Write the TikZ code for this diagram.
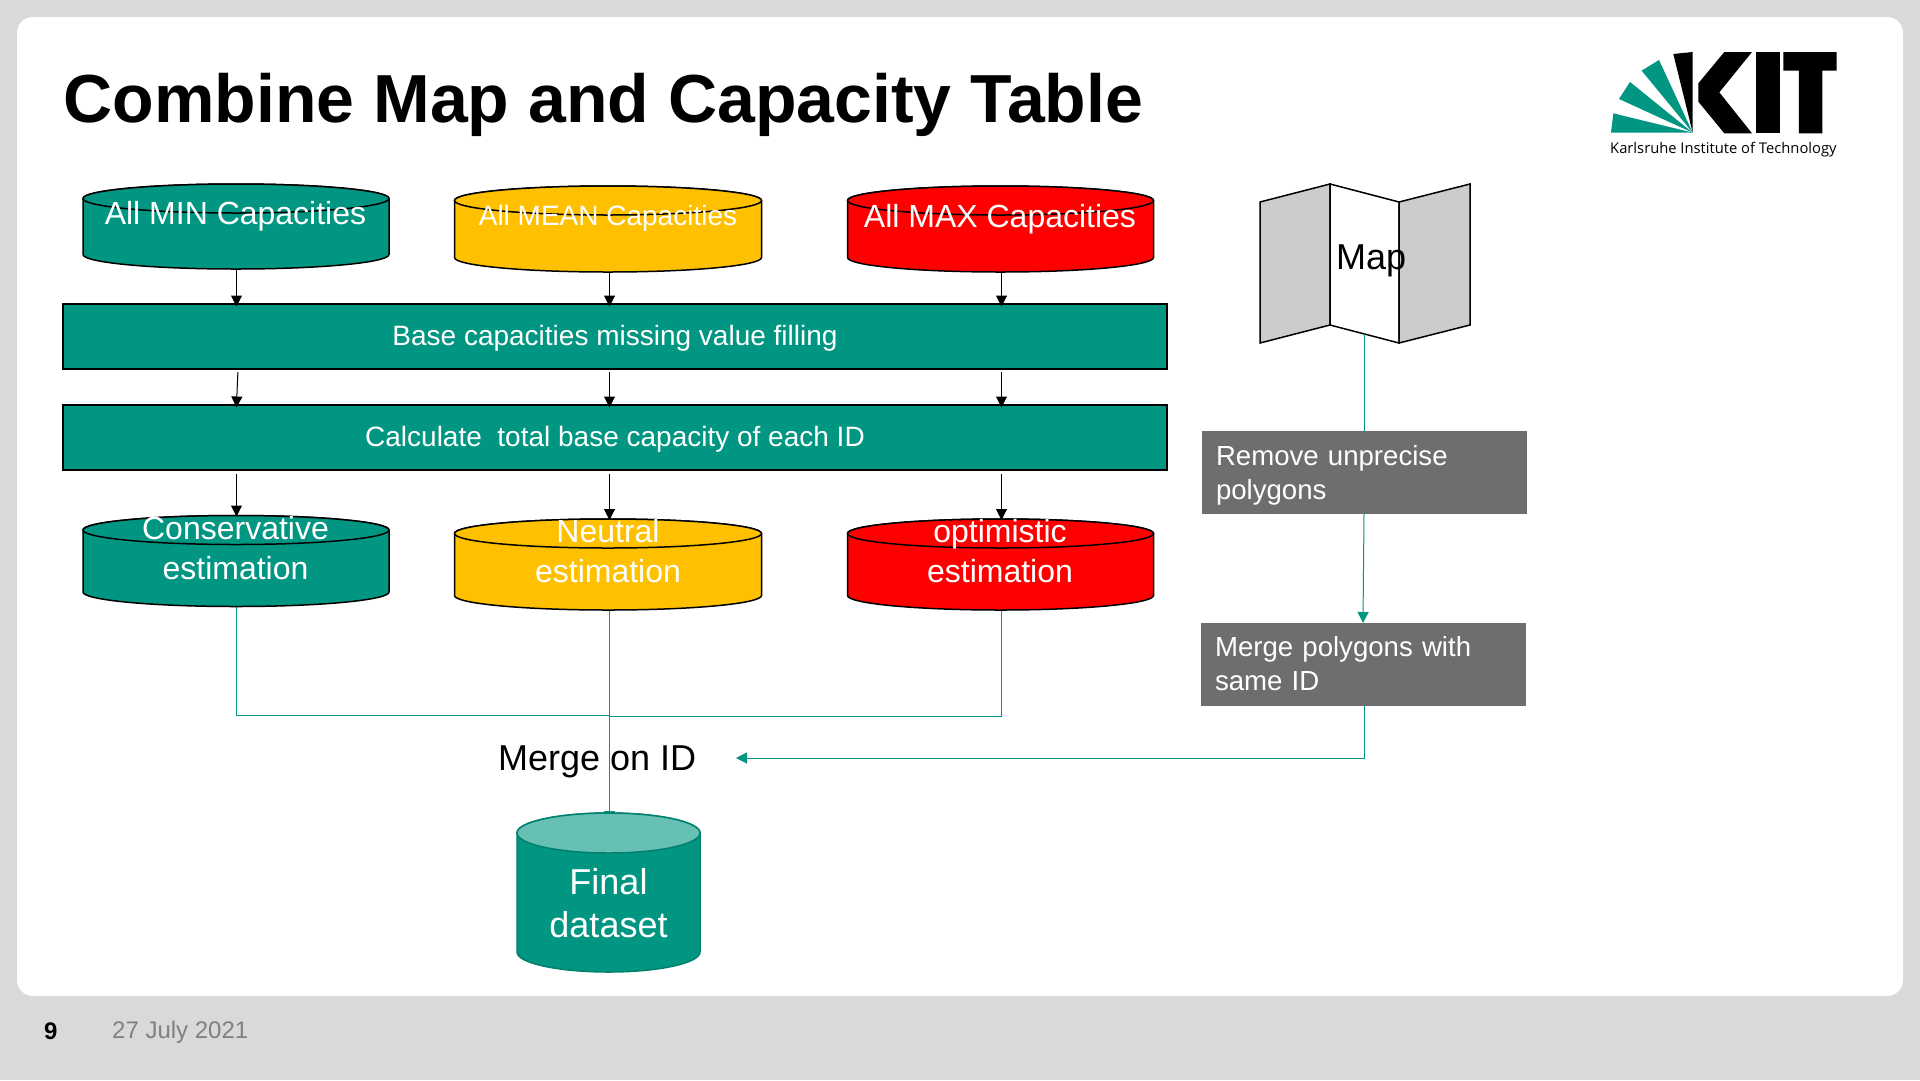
\documentclass[tikz,border=0pt]{standalone}
\usepackage{fontspec}
\setmainfont{Liberation Sans}
\newfontfamily\logofont{Open Sans}
\usetikzlibrary{arrows.meta}
\definecolor{kitteal}{HTML}{009682}
\definecolor{kitgold}{HTML}{FFC000}
\definecolor{kitred}{HTML}{FF0000}
\definecolor{kitframe}{HTML}{D9D9D9}
\definecolor{kitgray}{HTML}{6E6E6E}
\definecolor{mapgray}{HTML}{CCCCCC}
\definecolor{finaltop}{HTML}{66C0B4}
\definecolor{finaledge}{HTML}{00806E}
\definecolor{datecol}{HTML}{808080}
\newcommand\fs[1]{\fontsize{#1}{#1}\selectfont}
\newcommand\drawtank[8]{%
  \pgfmathsetmacro\tkA{#3+#5}\pgfmathsetmacro\tkB{#4-#5}%
  \pgfmathsetmacro\tkL{#1-#2}\pgfmathsetmacro\tkR{#1+#2}%
  \path[draw=#8,fill=#6,line width=1.5pt] (\tkL,\tkA) -- (\tkL,\tkB)
    arc[start angle=180,end angle=360,x radius=#2pt,y radius=#5pt]
    -- (\tkR,\tkA)
    arc[start angle=0,end angle=180,x radius=#2pt,y radius=#5pt] -- cycle;
  \path[draw=#8,fill=#7,line width=1.5pt] (#1,\tkA) ellipse [x radius=#2pt,y radius=#5pt];
}
\tikzset{
  tankbox/.style={inner sep=0pt,outer sep=0pt,minimum width=306pt},
  barbox/.style={draw=black,line width=2pt,fill=kitteal,text=white,inner sep=0pt,outer sep=0pt,
    minimum width=1104pt,minimum height=65pt,text height=21pt,text depth=3pt,font=\fs{28}},
  tanktext/.style={text=white,inner sep=0pt,font=\fs{32}},
  tanktwo/.style={text=white,inner sep=0pt,align=center,font=\fontsize{32}{40}\selectfont},
  graybox/.style={fill=kitgray,text=white,inner sep=0pt,outer sep=0pt,minimum width=325pt,minimum height=83pt,
    text width=297pt,align=left,font=\fontsize{27.6}{34}\selectfont},
  blackarrow/.style={draw=black,line width=1pt,-{Triangle[length=11pt,width=11pt]}},
  tealline/.style={draw=kitteal,line width=1pt},
  tealarrow/.style={draw=kitteal,line width=1pt,-{Triangle[length=11pt,width=11pt]}},
  mappanel/.style={draw=black,line width=1.5pt,line join=miter},
}
\begin{document}
\begin{tikzpicture}[x=1pt,y=-1pt]
\useasboundingbox (0,0) rectangle (1920,1080);
\fill[kitframe] (0,0) rectangle (1920,1080);
\fill[white,rounded corners=16pt] (17,17) rectangle (1903,996);
\node[anchor=base west,inner sep=0pt,font=\bfseries\fs{68}] (title) at (63.5,122) {Combine Map and Capacity Table};
% logo
\begin{scope}[shift={(1580,30)},x=0.3333pt,y=-0.3333pt]
\fill[kitteal] (93,308) -- (100,250) -- (338,308) -- cycle;
\fill[kitteal] (117,207) -- (150,156) -- (338,308) -- cycle;
\fill[kitteal] (185,122) -- (237,90) -- (338,308) -- cycle;
\fill[black] (280,72) -- (338,66) -- (338,308) -- cycle;
\fill[black] (355,160) -- (433,66) -- (516,66) -- (418,187) -- (516,310) -- (433,310) -- (355,215) -- cycle;
\fill[black] (527,66) rectangle (600,310);
\fill[black] (610,66) -- (770,66) -- (770,122) -- (727,122) -- (727,310) -- (657,310) -- (657,122) -- (610,122) -- cycle;
\end{scope}
\node[anchor=base west,inner sep=0pt,font=\logofont\fs{14.75}] (logotext) at (1610,153) {Karlsruhe Institute of Technology};
% nodes
\node[tankbox,minimum height=85pt] (t1) at (236.5,226.5) {};
\node[tankbox,minimum height=86pt] (t2) at (609.5,229) {};
\node[tankbox,minimum height=86pt] (t3) at (1001.5,229) {};
\node[barbox] (rA) at (615,336.5) {Base capacities missing value filling};
\node[barbox] (rB) at (615,437.5) {Calculate\ \ total base capacity of each ID};
\node[tankbox,minimum height=91pt] (t4) at (236.5,561) {};
\node[tankbox,minimum height=91pt] (t5) at (609.5,564.5) {};
\node[tankbox,minimum height=91pt] (t6) at (1001.5,564.5) {};
\node[inner sep=0pt,outer sep=0pt,minimum width=183pt,minimum height=159pt] (t7) at (609.5,892.5) {};
% map
\path[mappanel,fill=mapgray] (1260,202) -- (1330,184) -- (1330,325) -- (1260,343) -- cycle;
\path[mappanel,fill=white] (1330,184) -- (1399,202) -- (1399,343) -- (1330,325) -- cycle;
\path[mappanel,fill=mapgray] (1399,202) -- (1470,184) -- (1470,325) -- (1399,343) -- cycle;
\coordinate (mapfoot) at (1364.5,334);
\node[anchor=base west,inner sep=0pt,font=\fs{36}] (maptext) at (1336,269.5) {Map};
% gray boxes
\node[graybox] (g1) at (1364.5,472.5) {\rule{0pt}{25pt}Remove unprecise\\polygons};
\node[graybox] (g2) at (1363.5,664) {Merge polygons with\\same ID};
\coordinate (mergetip) at (736,758);
% teal connectors
\draw[tealline] (t4.south) |- (t5.south |- 0,715);
\draw[tealline] (t6.south) |- (t5.south |- 0,716.5);
\draw[tealarrow,shorten >=-9pt] (t5.south) -- (t7.north);
\draw[tealline] (mapfoot) -- (mapfoot |- g1.north);
\draw[tealarrow] (1364,514) -- (1363,623);
\draw[tealarrow] (g2.south -| mapfoot) |- (mergetip);
% tanks
\drawtank{236}{153}{184}{269}{14.5}{kitteal}{kitteal}{black}
\drawtank{608}{153.5}{186}{272}{14.5}{kitgold}{kitgold}{black}
\drawtank{1000.5}{153}{186}{272}{14.5}{kitred}{kitred}{black}
\drawtank{236}{153}{515.5}{606.5}{14.5}{kitteal}{kitteal}{black}
\drawtank{608}{153.5}{519}{610}{14.5}{kitgold}{kitgold}{black}
\drawtank{1000.5}{153}{519}{610}{14.5}{kitred}{kitred}{black}
\drawtank{608.5}{91.5}{813}{972}{20}{kitteal}{finaltop}{finaledge}
% black connectors
\draw[blackarrow,shorten >=-2.5pt] (t1.south) -- (t1.south |- rA.north);
\draw[blackarrow,shorten >=-2.5pt] (t2.south) -- (t2.south |- rA.north);
\draw[blackarrow,shorten >=-2.5pt] (t3.south) -- (t3.south |- rA.north);
\draw[blackarrow,shorten <=3pt,shorten >=-2.5pt] ([xshift=1.5pt]t1.south |- rA.south) -- (t1.south |- rB.north);
\draw[blackarrow,shorten <=3pt,shorten >=-2.5pt] (t2.south |- rA.south) -- (t2.south |- rB.north);
\draw[blackarrow,shorten <=3pt,shorten >=-2.5pt] (t3.south |- rA.south) -- (t3.south |- rB.north);
\draw[blackarrow,shorten <=4pt,shorten >=-1pt] (t4.north |- rB.south) -- (t4.north);
\draw[blackarrow,shorten <=4pt,shorten >=-1pt] (t5.north |- rB.south) -- (t5.north);
\draw[blackarrow,shorten <=4pt,shorten >=-1pt] (t6.north |- rB.south) -- (t6.north);
% tank texts
\node[tanktext,anchor=base] (l1) at (235.5,224) {All MIN Capacities};
\node[tanktext,anchor=base,font=\fs{28}] (l2) at (608,225) {All MEAN Capacities};
\node[tanktext,anchor=base] (l3) at (1000,227) {All MAX Capacities};
\node[tanktwo] (l4) at (235.5,548.5) {Conservative\\estimation};
\node[tanktwo] (l5) at (608,551.5) {Neutral\\estimation};
\node[tanktwo] (l6) at (1000,551.5) {optimistic\\estimation};
\node[text=white,inner sep=0pt,align=center,font=\fontsize{36}{43}\selectfont] (l7) at (608.5,903.5) {Final\\dataset};
\node[anchor=base west,inner sep=0pt,font=\fs{36}] (merge) at (498,770) {Merge on ID};
% footer
\node[anchor=base west,inner sep=0pt,font=\bfseries\fs{24}] (pageno) at (44,1039) {9};
\node[anchor=base west,inner sep=0pt,text=datecol,font=\fs{24}] (datetxt) at (112,1038.5) {27 July 2021};
\end{tikzpicture}
\end{document}
